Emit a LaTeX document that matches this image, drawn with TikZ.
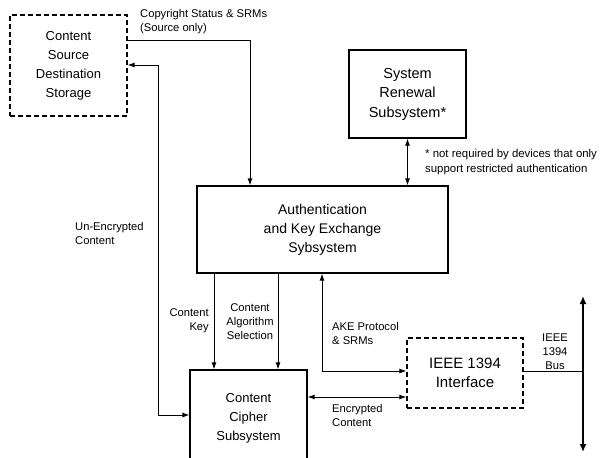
\documentclass[tikz,border=0pt]{standalone}
\usepackage{fontspec}
\setmainfont{Liberation Sans}
\usetikzlibrary{arrows.meta}
\begin{document}
\begin{tikzpicture}[x=1pt,y=-1pt,
  box/.style={draw,line width=1.1pt,align=center,inner sep=0pt,font=\fontsize{13}{19}\selectfont},
  dbox/.style={box,dash pattern=on 5pt off 3pt},
  lbl/.style={inner sep=0pt,font=\fontsize{11.2}{14}\selectfont},
  arr/.style={line width=1pt,-{Latex[length=7pt,width=5pt]}},
  darr/.style={line width=1pt,{Latex[length=7pt,width=5pt]}-{Latex[length=7pt,width=5pt]}}]
\useasboundingbox (0,0) rectangle (603,458);
% boxes
\node (store) [dbox,minimum width=117pt,minimum height=101pt] at (68.5,65.5) {Content\\Source\\Destination\\Storage};
\node (srs) [box,minimum width=117pt,minimum height=88pt,font=\fontsize{14.5}{19.5}\selectfont] at (407.5,94) {System\\Renewal\\Subsystem*};
\node (auth) [box,minimum width=251pt,minimum height=87pt,font=\fontsize{14}{19}\selectfont] at (322.5,229.5) {Authentication\\and Key Exchange\\Sybsystem};
\node (cipher) [box,minimum width=117pt,minimum height=96pt] at (248.5,418) {Content\\Cipher\\Subsystem};
\node (ieee) [dbox,minimum width=116pt,minimum height=70pt,font=\fontsize{15}{19}\selectfont] at (465,373) {IEEE 1394\\Interface};
% corner points
\coordinate (cr) at (250,40);
\coordinate (ue) at (158,65);
\coordinate (ub) at (158,415);
\coordinate (kx) at (214,0);
\coordinate (ax) at (278,0);
\coordinate (ak) at (322,371);
\coordinate (ec) at (357,397);
\coordinate (bt) at (583,296);
\coordinate (bb) at (583,452);
% connectors
\draw[arr] (store.east |- cr) -- (cr) -- (cr |- auth.north);
\draw[darr] (store.east |- ue) -- (ue) -- (ub) -- (cipher.west |- ub);
\draw[darr] (srs.south) -- (srs.south |- auth.north);
\draw[arr] (kx |- auth.south) -- (kx |- cipher.north);
\draw[arr] (ax |- auth.south) -- (ax |- cipher.north);
\draw[darr] (ak |- auth.south) -- (ak) -- (ieee.west |- ak);
\draw[darr] (cipher.east |- ec) -- (ieee.west |- ec);
\draw[line width=1pt] (ieee.east |- ak) -- (bt |- ak);
\draw[line width=2.4pt,{Latex[length=8pt,width=7pt]}-{Latex[length=8pt,width=7pt]}] (bt) -- (bb);
% labels
\node (lcopy) [lbl,anchor=west,align=left] at (140,22) {Copyright Status \& SRMs\\(Source only)};
\node (lnote) [lbl,anchor=west,align=left,font=\fontsize{11.4}{15}\selectfont] at (425,162) {* not required by devices that only\\support restricted authentication};
\node (lue) [lbl,anchor=west,align=left] at (75,233) {Un-Encrypted\\Content};
\node (lkey) [lbl,anchor=east,align=right] at (209,321) {Content\\Key};
\node (lalg) [lbl,align=center] at (250,322) {Content\\Algorithm\\Selection};
\node (lake) [lbl,anchor=west,align=left] at (332,333) {AKE Protocol\\\& SRMs};
\node (lenc) [lbl,anchor=west,align=left] at (332,415) {Encrypted\\Content};
\node (lbus) [lbl,align=center] at (555,352) {IEEE\\1394\\Bus};
\end{tikzpicture}
\end{document}
